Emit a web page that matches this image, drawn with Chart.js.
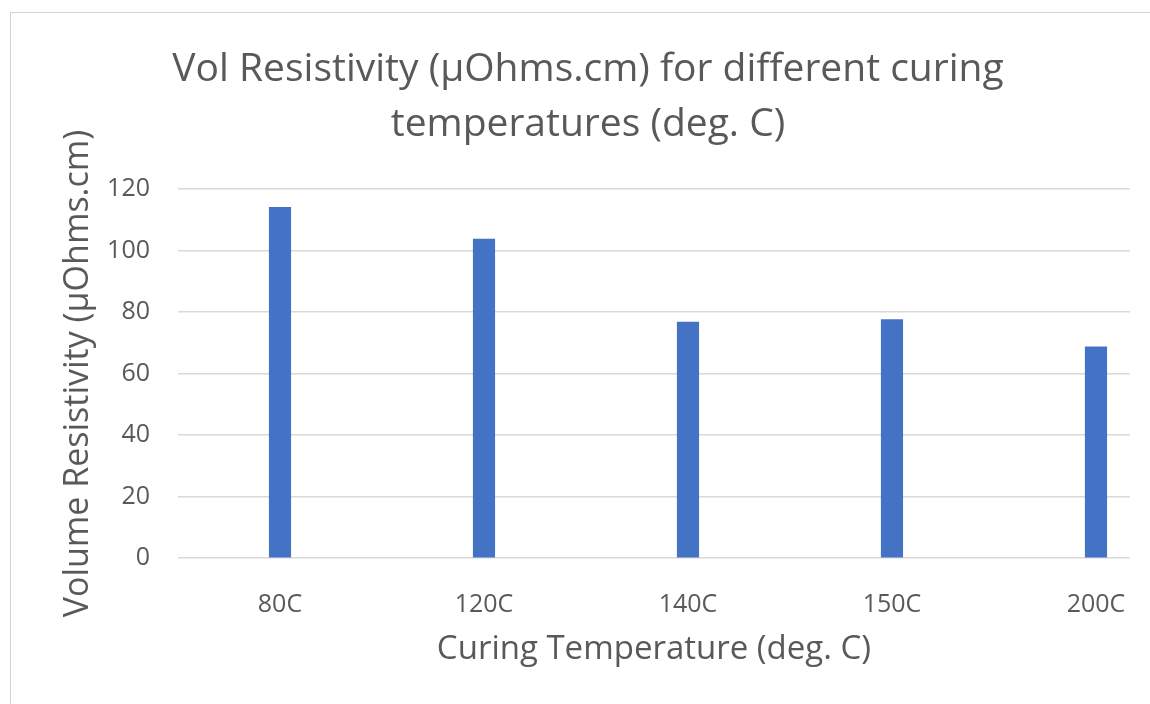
<!DOCTYPE html>
<html>
<head>
<meta charset="utf-8">
<script src="https://cdn.jsdelivr.net/npm/chart.js@4.4.0/dist/chart.umd.min.js"></script>
<style>
  body { margin: 0; background: #fff; }
  #wrap { position: relative; width: 1150px; height: 704px; overflow: hidden; }
  #frame { position: absolute; left: 10px; top: 12px; width: 1140px; height: 700px;
           border-left: 1px solid #d4d4d4; border-top: 1px solid #d4d4d4; }
  canvas { position: absolute; left: 0; top: 0; }
</style>
</head>
<body>
<div id="wrap">
  <div id="frame"></div>
  <canvas id="chart" width="1150" height="704"></canvas>
</div>
<script>
// data
const categories = ["80C", "120C", "140C", "150C", "200C"];
const resistivity = [114.0, 103.7, 76.7, 77.5, 68.7];
const yTicks = [0, 20, 40, 60, 80, 100, 120];

const textColor = "#595959";
const font = "'Open Sans', 'DejaVu Sans', sans-serif";

const points = categories.map((c, i) => ({ x: i, y: resistivity[i] }));

const ctx = document.getElementById("chart").getContext("2d");
const chart = new Chart(ctx, {
    type: "bar",
    data: {
        datasets: [
            {
                label: "Volume Resistivity",
                data: points,
                backgroundColor: "#4472c4",
                borderWidth: 0,
                barThickness: 21.5,
            },
        ],
    },
    options: {
        responsive: false,
        animation: false,
        devicePixelRatio: 1,
        layout: {
            padding: { left: 46, right: 20, top: 12, bottom: 0 },
        },
        plugins: {
            legend: { display: false },
            tooltip: { enabled: false },
            title: {
                display: true,
                text: ["Vol Resistivity (µOhms.cm) for different curing", "temperatures (deg. C)"],
                color: textColor,
                font: { family: font, size: 39, weight: "normal", lineHeight: 1.41 },
                padding: { top: 30, bottom: 37 },
            },
        },
        scales: {
            x: {
                type: "linear",
                offset: false,
                min: -0.5,
                max: 4.166,
                grid: { display: false, offset: false },
                border: { display: false },
                afterBuildTicks: (scale) => {
                    scale.ticks = categories.map((c, i) => ({ value: i }));
                },
                afterFit: (scale) => {
                    scale.height = 146;
                },
                ticks: {
                    color: textColor,
                    font: { family: font, size: 25 },
                    padding: 24,
                    maxRotation: 0,
                    callback: (v) => categories[v],
                },
                title: {
                    display: true,
                    text: "Curing Temperature (deg. C)",
                    color: textColor,
                    font: { family: font, size: 33, lineHeight: 1.2 },
                    padding: { top: 0, bottom: 35 },
                },
            },
            y: {
                min: 0,
                max: 120,
                afterBuildTicks: (scale) => {
                    scale.ticks = yTicks.map((v) => ({ value: v }));
                },
                afterFit: (scale) => {
                    scale.width = 132;
                },
                grid: { color: "#d9d9d9", lineWidth: 1.5, drawTicks: false },
                border: { display: false },
                ticks: {
                    color: textColor,
                    font: { family: font, size: 25 },
                    padding: 28,
                },
                title: {
                    display: true,
                    text: "Volume Resistivity (µOhms.cm)",
                    color: textColor,
                    font: { family: font, size: 34, lineHeight: 1.2 },
                    padding: { top: 12, bottom: 0 },
                },
            },
        },
    },
});
</script>
</body>
</html>
